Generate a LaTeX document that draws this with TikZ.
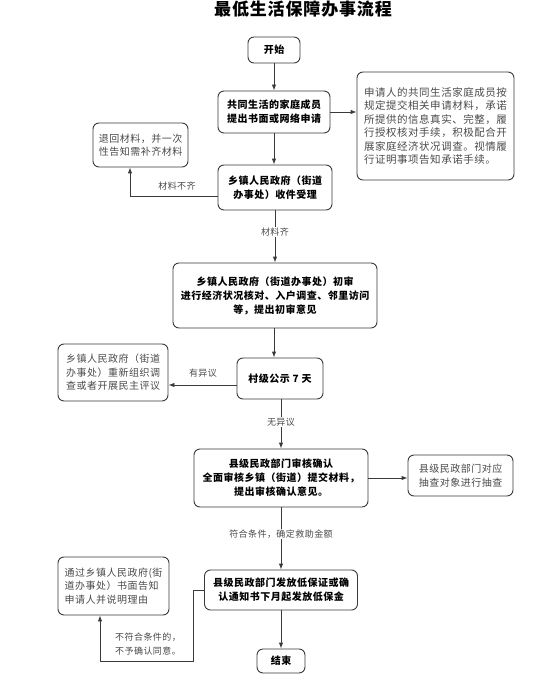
\documentclass[tikz,border=0pt]{standalone}
\usepackage{fontspec}
\newfontfamily\cjk[LetterSpace=5]{Noto Sans CJK SC}
\usetikzlibrary{arrows.meta}
\definecolor{edge}{HTML}{3A3A3A}
\definecolor{side}{HTML}{4A4A4A}
\tikzset{
  mainbox/.style={draw=edge, line width=0.9pt, rounded corners=6pt, align=center,
    font=\cjk\bfseries\fontsize{10}{14}\selectfont, text=black, inner sep=0pt},
  sidebox/.style={draw=edge, line width=0.9pt, rounded corners=6pt, align=left,
    font=\cjk\fontsize{10}{13.5}\selectfont, text=side, inner sep=0pt},
  lbl/.style={font=\cjk\fontsize{9}{14}\selectfont, text=side, inner sep=1pt},
  arr/.style={draw=edge, line width=0.9pt, -{Latex[length=6pt,width=4.5pt]}},
  ln/.style={draw=edge, line width=0.9pt}
}
\begin{document}
\begin{tikzpicture}[x=1pt,y=-1pt]
\useasboundingbox (0,0) rectangle (554,700);
\node (title) at (303,9) {\cjk\bfseries\fontsize{17}{20}\selectfont 最低生活保障办事流程};

\node[mainbox, minimum width=52pt, minimum height=26pt] (n1) at (274,50) {开始};
\node[mainbox, minimum width=112pt, minimum height=42pt] (n2) at (274,112) {共同生活的家庭成员\\提出书面或网络申请};
\node[sidebox, font=\cjk\fontsize{10.5}{13.5}\selectfont, minimum width=157pt, minimum height=108pt] (note) at (435.5,126) {申请人的共同生活家庭成员按\\规定提交相关申请材料，承诺\\所提供的信息真实、完整，履\\行授权核对手续，积极配合开\\展家庭经济状况调查。视情履\\行证明事项告知承诺手续。};
\node[mainbox, minimum width=114pt, minimum height=45pt] (n3) at (275,187.5) {乡镇人民政府（街道\\办事处）收件受理};
\node[sidebox, minimum width=95pt, minimum height=44pt] (ret) at (140.5,145) {退回材料，并一次\\性告知需补齐材料};
\node[mainbox, minimum width=204pt, minimum height=65pt] (n4) at (275,295.5) {乡镇人民政府（街道办事处）初审\\进行经济状况核对、入户调查、邻里访问\\等，提出初审意见};
\node[mainbox, minimum width=86pt, minimum height=41pt] (n5) at (280,378.5) {村级公示 7 天};
\node[sidebox, minimum width=110pt, minimum height=57pt] (obj) at (113,372.5) {乡镇人民政府（街道\\办事处）重新组织调\\查或者开展民主评议};
\node[mainbox, minimum width=174pt, minimum height=58pt] (n6) at (281,478) {县级民政部门审核确认\\全面审核乡镇（街道）提交材料，\\提出审核确认意见。};
\node[sidebox, minimum width=105pt, minimum height=41pt] (check) at (460.5,475.5) {县级民政部门对应\\抽查对象进行抽查};
\node[mainbox, minimum width=153pt, minimum height=40pt] (n7) at (281,590) {县级民政部门发放低保证或确\\认通知书下月起发放低保金};
\node[sidebox, minimum width=111pt, minimum height=58pt] (notify) at (113.5,586) {通过乡镇人民政府(街\\道办事处）书面告知\\申请人并说明理由};
\node[mainbox, minimum width=48pt, minimum height=24pt] (end) at (281,661) {结束};

% connectors
\draw[arr] (n1.south) -- (n2.north);
\draw[arr] (n2.east) -- (n2.east -| note.west);
\draw[arr] (n2.south) -- (n2.south |- n3.north);
\draw[arr] ([yshift=-8.5pt]n3.west) -| ([xshift=-10.5pt]ret.south);
\node[lbl] (l1) at (177,186) {材料不齐};
\draw[arr] (n3.south) -- (n4.north);
\node[lbl, fill=white] (l2) at (275,232) {材料齐};
\draw[arr] ([xshift=-1pt]n4.south) -- ([xshift=-1pt]n4.south |- n5.north);
\draw[arr] ([yshift=-6.5pt]n5.west) -- ([yshift=-6.5pt]n5.west -| obj.east);
\node[lbl] (l3) at (203,373) {有异议};
\draw[arr] ([xshift=1pt]n5.south) -- ([xshift=1pt]n5.south |- n6.north);
\node[lbl, fill=white] (l4) at (281,422) {无异议};
\draw[arr] (n6.east) -- (n6.east -| check.west);
\draw[arr] (n6.south) -- (n7.north);
\node[lbl, fill=white] (l5) at (281,534) {符合条件，确定救助金额};
\coordinate (c1) at (193,661);
\draw[arr] (n7.west) -| (c1) -| ([xshift=-13.5pt]notify.south);
\node[lbl, align=left, anchor=west] (l6) at (114,644.5) {不符合条件的，\\不予确认同意。};
\draw[arr] (n7.south) -- (end.north);
\end{tikzpicture}
\end{document}
